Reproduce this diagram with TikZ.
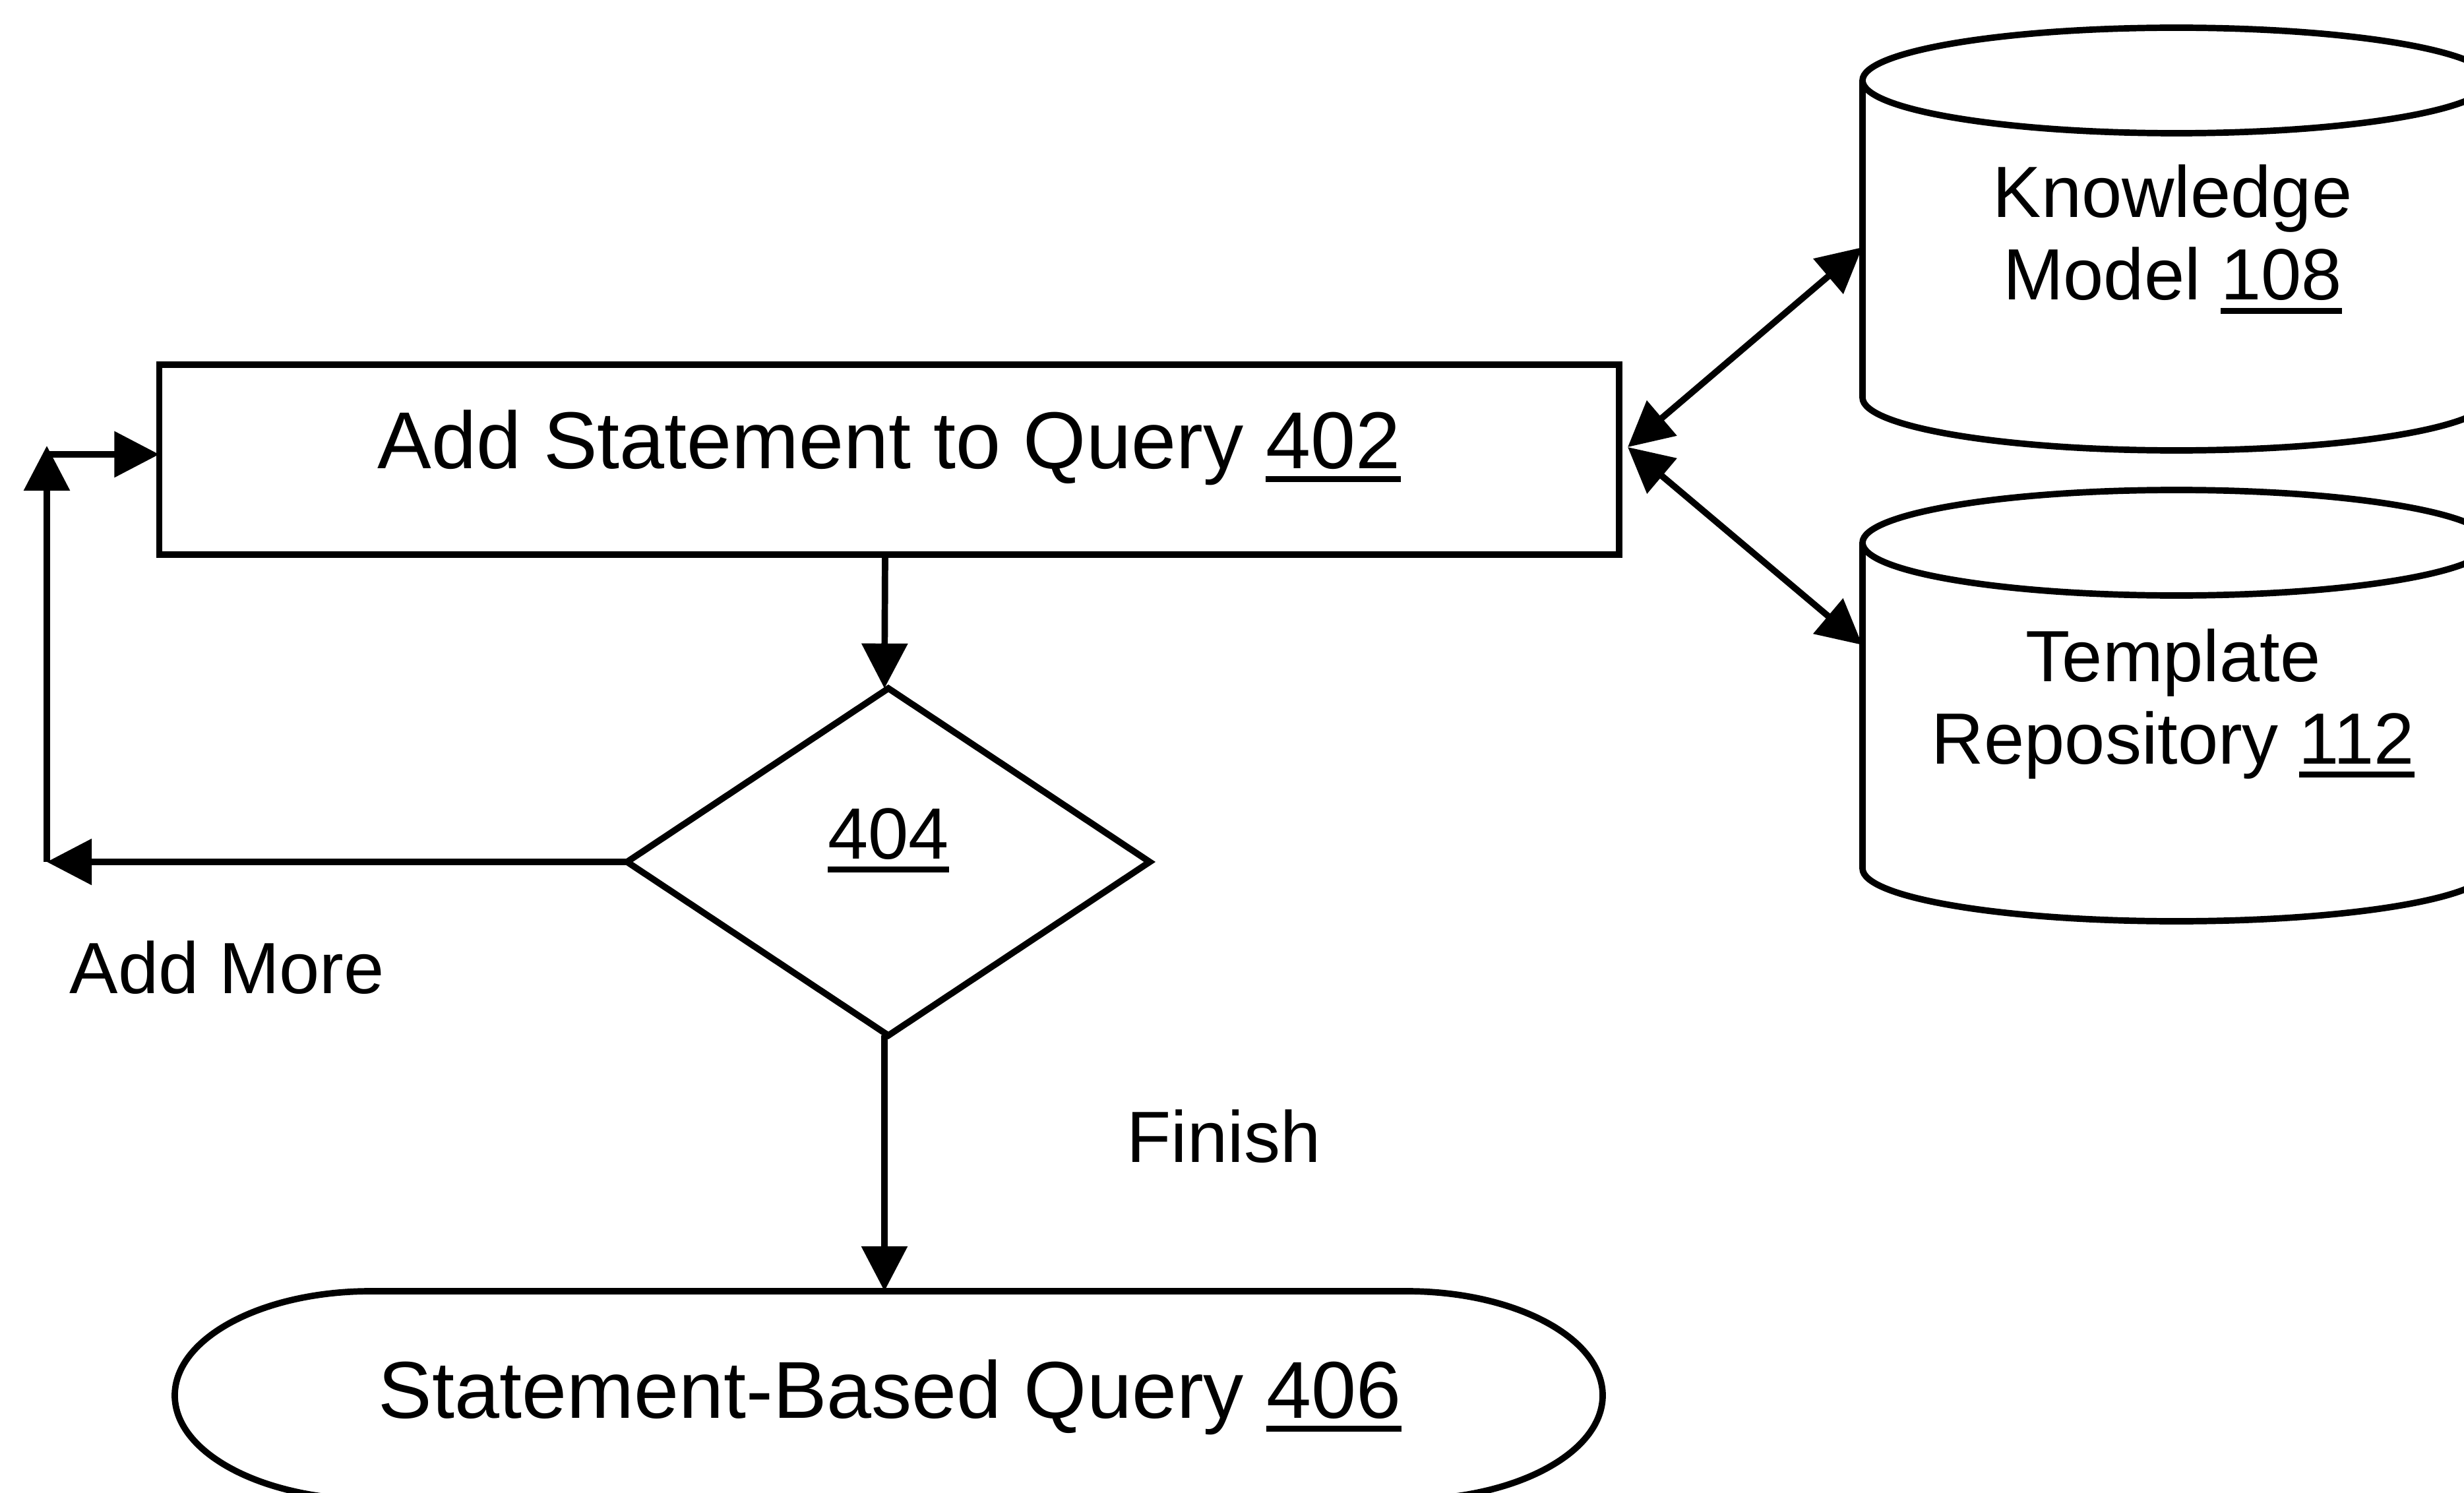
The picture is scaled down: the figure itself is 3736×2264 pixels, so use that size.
\documentclass[tikz,border=0pt]{standalone}
\usepackage{fontspec}
\setmainfont{Liberation Sans}
\usetikzlibrary{arrows.meta,calc}
\newsavebox\unumbox
\newcommand\unum[1]{\sbox\unumbox{#1}\rlap{\rule[-0.21cm]{\wd\unumbox}{0.09cm}}\usebox\unumbox}
\newcommand\bigtxt{\fontsize{34.8pt}{40pt}\selectfont}
\newcommand\lbltxt{\fontsize{31.3pt}{38pt}\selectfont}
\tikzset{
  ln/.style={line width=0.097cm, line join=miter},
  arr/.style={ln, -{Triangle[length=0.68cm,width=0.68cm]}},
  darr/.style={ln, {Triangle[length=0.68cm,width=0.68cm]}-{Triangle[length=0.68cm,width=0.68cm]}},
  shapebox/.style={inner sep=0pt, outer sep=0pt},
  bigtext/.style={font=\bigtxt, inner sep=0pt, anchor=base},
  lbltext/.style={font=\lbltxt, inner sep=0pt, anchor=base},
}
\begin{document}
\begin{tikzpicture}[x=0.01cm,y=-0.01cm]
\fill[white] (0,0) rectangle (3736,2264);
\useasboundingbox (0,0) rectangle (3736,2264);
\clip (0,0) rectangle (3736,2264);

% process box 402
\node[shapebox, ln, draw, minimum width=22.12cm, minimum height=2.88cm] (a402) at (1348,697) {};
\node[bigtext] (a402t) at (1348,710) {Add Statement to Query \unum{402}};

% decision 404
\node[shapebox, minimum width=7.92cm, minimum height=5.26cm] (d404) at (1347,1307) {};
\draw[ln] (d404.north) -- (d404.east) -- (d404.south) -- (d404.west) -- cycle;
\node[lbltext] (d404t) at (1347,1302) {\unum{404}};

% terminator 406
\node[shapebox, minimum width=21.64cm, minimum height=3.16cm] (q406) at (1347,2116) {};
\draw[ln] (562,1958) -- (2133,1958)
  arc[start angle=-90, end angle=90, x radius=297, y radius=158]
  -- (562,2274)
  arc[start angle=90, end angle=270, x radius=297, y radius=158] -- cycle;
\node[bigtext] (q406t) at (1349,2150) {Statement-Based Query \unum{406}};

% cylinder 108
\node[shapebox, minimum width=9.52cm, minimum height=4.81cm] (k108) at (3300,362.5) {};
\draw[ln] (3300,122) ellipse[x radius=476, y radius=80];
\draw[ln] (2824,122) -- (2824,603)
  arc[start angle=180, end angle=0, x radius=476, y radius=80] -- (3776,122);
\node[lbltext] (k108a) at (3294,330) {Knowledge};
\node[lbltext] (k108b) at (3294,455) {Model \unum{108}};

% cylinder 112
\node[shapebox, minimum width=9.52cm, minimum height=4.94cm] (t112) at (3300,1070) {};
\draw[ln] (3300,823) ellipse[x radius=476, y radius=80];
\draw[ln] (2824,823) -- (2824,1317)
  arc[start angle=180, end angle=0, x radius=476, y radius=80] -- (3776,823);
\node[lbltext] (t112a) at (3295,1033) {Template};
\node[lbltext] (t112b) at (3295,1158) {Repository \unum{112}};

% connector points
\coordinate (hub) at (2468,678);
\coordinate (k108in) at (k108.west |- 0,375);
\coordinate (t112in) at (t112.west |- 0,978);
\coordinate (lb) at (71,1307);
\coordinate (ltip) at (71,676);
\coordinate (lt) at (71,689);

% connectors
\draw[arr] ([xshift=-0.06cm]a402.south) -- ([xshift=-0.06cm]d404.north);
\draw[arr] ([xshift=-0.06cm]d404.south) -- ([xshift=-0.06cm]q406.north);
\draw[arr] (d404.west) -- (lb);
\draw[arr] (lb) -- (ltip);
\draw[arr] (lt) -- (a402.west |- lt);
\draw[darr] (hub) -- (k108in);
\draw[darr] (hub) -- (t112in);

% labels
\node[lbltext, anchor=base west] (addmore) at (105,1506) {Add More};
\node[lbltext, anchor=base west] (finish) at (1708,1762) {Finish};
\end{tikzpicture}
\end{document}
